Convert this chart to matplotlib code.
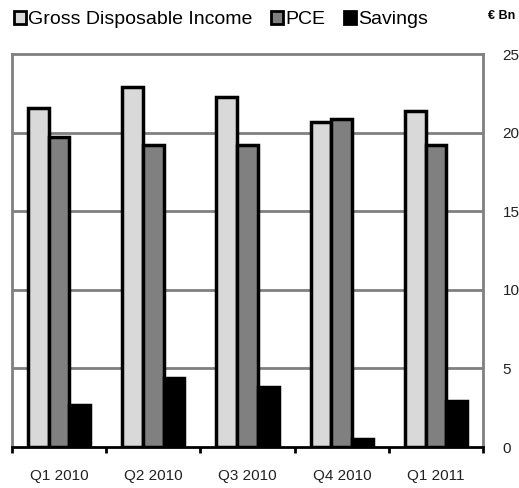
import numpy as np
import matplotlib.pyplot as plt
from matplotlib.patches import Patch

plt.rcParams['font.family'] = ['Liberation Sans', 'DejaVu Sans']

# data
quarters = ['Q1 2010', 'Q2 2010', 'Q3 2010', 'Q4 2010', 'Q1 2011']
gdi = [21.6, 22.9, 22.3, 20.7, 21.4]
pce = [19.7, 19.2, 19.2, 20.9, 19.2]
savings = [2.7, 4.4, 3.8, 0.5, 2.9]

series_names = ['Gross Disposable Income', 'PCE', 'Savings']
series_colors = ['#d9d9d9', '#808080', '#000000']

fig = plt.figure(figsize=(5.19, 4.88), dpi=100)
ax = fig.add_axes([0.023, 0.084, 0.908, 0.805])

x = np.arange(len(quarters))
w = 0.22
for i, (vals, col) in enumerate(zip([gdi, pce, savings], series_colors)):
    ax.bar(x + (i - 1) * w, vals, w, color=col, edgecolor='black',
           linewidth=2.5, zorder=3)

ax.set_xlim(-0.5, len(quarters) - 0.5)
ax.set_ylim(0, 25)

# grid and frame
ax.set_yticks([0, 5, 10, 15, 20, 25])
for v in [5, 10, 15, 20]:
    ax.axhline(v, color='#808080', lw=2, zorder=1)
for s in ['top', 'left', 'right']:
    ax.spines[s].set_color('#808080')
    ax.spines[s].set_linewidth(2)
ax.spines['bottom'].set_color('black')
ax.spines['bottom'].set_linewidth(2)
ax.spines['bottom'].set_zorder(4)

ax.yaxis.tick_right()
ax.tick_params(axis='y', length=0, pad=14, labelsize=11, labelcolor='#222222')
ax.set_xticks(x)
ax.set_xticklabels(quarters)
ax.tick_params(axis='x', which='major', length=0, pad=16, labelsize=11,
               labelcolor='#222222')
ax.set_xticks(np.arange(-0.5, len(quarters), 1), minor=True)
ax.tick_params(axis='x', which='minor', length=4, width=2, color='black')

handles = [Patch(facecolor=c, edgecolor='black', linewidth=2) for c in series_colors]
fig.legend(handles, series_names, loc='upper left', bbox_to_anchor=(0.012, 0.993),
           ncol=3, frameon=False, fontsize=14, handlelength=0.6, handleheight=0.6,
           handletextpad=0.1, columnspacing=1.0, borderaxespad=0.1, borderpad=0.3)

fig.text(0.94, 0.967, '€ Bn', fontsize=9, fontweight='bold', ha='left', va='center')

fig.savefig('out.png', dpi=100)
